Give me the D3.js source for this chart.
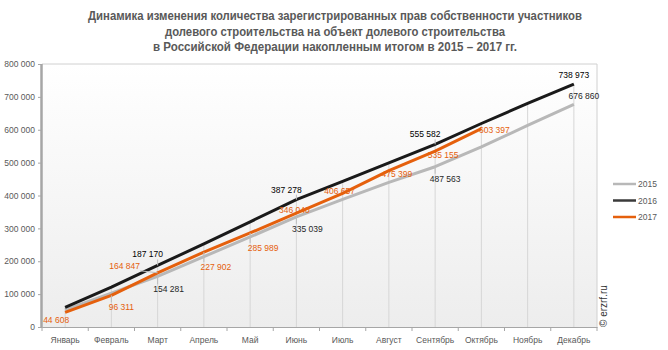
<!DOCTYPE html>
<html><head><meta charset="utf-8">
<script src="https://cdn.jsdelivr.net/npm/d3@7"></script>
<style>
body{margin:0;background:#fff;}
svg{display:block;}
</style></head>
<body>
<svg id="chart" width="668" height="350"></svg>
<script>
// ---- data ----
const months = ["Январь","Февраль","Март","Апрель","Май","Июнь","Июль","Август","Сентябрь","Октябрь","Ноябрь","Декабрь"];
const seriesNames = ["2015","2016","2017"];
const values2015 = [52000,103000,154281,214000,274000,335039,388000,440000,487563,548000,613000,676860];
const values2016 = [60000,121000,187170,253000,320000,387278,443000,499000,555582,619000,680000,738973];
const values2017 = [44608,96311,164847,227902,285989,346040,406657,475399,535155,603397];
const labeled2015 = [2,5,8,11];
const labeled2016 = [2,5,8,11];
const labeled2017 = [0,1,2,3,4,5,6,7,8,9];
const yTicks = [0,100000,200000,300000,400000,500000,600000,700000,800000];
const titleLines = [
  "Динамика изменения количества зарегистрированных прав собственности  участников",
  "долевого строительства на объект долевого строительства",
  "в Российской Федерации накопленным итогом в 2015 – 2017 гг."
];

// ---- layout / style ----
const colors = {"2015":"#b8b8b8","2016":"#1a1a1a","2017":"#e5600d"};
const labelColors = {"2015":"#262626","2016":"#000000","2017":"#e5600d"};
const labelOffsets = {
  "2015":[[11,13],[11,12],[10,12],[10,-8]],
  "2016":[[-10,-11],[-10,-10],[-10,-10],[0,-9]],
  "2017":[[-9,8],[10,12],[-33,-7],[12,15],[13,15],[-2,-3],[-3,-2],[8,3],[8,4],[13,1]]
};
const m = {left:42, right:597, top:64, bottom:327};
const fmt = v => d3.format(",")(v).replace(/,/g," ");

const svg = d3.select("#chart");
const defs = svg.append("defs");
const grad = defs.append("linearGradient").attr("id","bg").attr("x1",0).attr("y1",0).attr("x2",0).attr("y2",1);
grad.append("stop").attr("offset","0%").attr("stop-color","#ffffff");
grad.append("stop").attr("offset","100%").attr("stop-color","#ededed");

// title
const titleWidths = [494,340,364];
svg.append("g").selectAll("text").data(titleLines).join("text")
  .attr("x",335).attr("y",(d,i)=>20+i*15.5)
  .attr("text-anchor","middle")
  .attr("font-family","'Liberation Sans Narrow','Arial Narrow','Liberation Sans',sans-serif")
  .attr("font-weight","bold").attr("font-size",12).attr("fill","#595959")
  .attr("textLength",(d,i)=>titleWidths[i]).attr("lengthAdjust","spacingAndGlyphs")
  .text(d=>d);

const x = d3.scaleBand().domain(months).range([m.left,m.right]).padding(0);
const y = d3.scaleLinear().domain([0,800000]).range([m.bottom,m.top]);
const cx = i => x(months[i]) + x.bandwidth()/2;

// plot background
svg.append("rect").attr("x",m.left).attr("y",m.top).attr("width",m.right-m.left).attr("height",m.bottom-m.top)
  .attr("fill","url(#bg)");
svg.append("line").attr("x1",m.left).attr("x2",m.right).attr("y1",m.top).attr("y2",m.top).attr("stroke","#d0d0d0");
svg.append("line").attr("x1",m.right).attr("x2",m.right).attr("y1",m.top).attr("y2",m.bottom).attr("stroke","#d0d0d0");

// drop lines
const allSeries = {"2015":values2015,"2016":values2016,"2017":values2017};
svg.append("g").selectAll("line").data(months).join("line")
  .attr("x1",(d,i)=>cx(i)).attr("x2",(d,i)=>cx(i))
  .attr("y1",y(0))
  .attr("y2",(d,i)=>y(d3.max(seriesNames.map(s=>allSeries[s][i]).filter(v=>v!=null))))
  .attr("stroke","#d6d6d6").attr("stroke-width",1);

// y axis
const yAxis = svg.append("g").attr("transform",`translate(${m.left-1},0)`)
  .call(d3.axisLeft(y).tickValues(yTicks).tickFormat(fmt).tickSize(3).tickPadding(3));
yAxis.select(".domain").remove();
yAxis.selectAll("line").attr("stroke","#a6a6a6");
yAxis.selectAll("text").attr("font-family","'Liberation Sans',Arial,sans-serif").attr("font-size",8.5).attr("fill","#595959");
svg.append("line").attr("x1",m.left-0.5).attr("x2",m.left-0.5).attr("y1",m.top).attr("y2",m.bottom+1)
  .attr("stroke","#a6a6a6").attr("stroke-width",2.5);

// x axis
const xAxis = svg.append("g").attr("transform",`translate(0,${m.bottom})`)
  .call(d3.axisBottom(x).tickSize(0).tickPadding(10));
xAxis.select(".domain").attr("stroke","#a6a6a6");
xAxis.selectAll("text").attr("font-family","'Liberation Sans',Arial,sans-serif").attr("font-size",8.5).attr("fill","#595959");
svg.append("g").selectAll("line").data(d3.range(months.length+1)).join("line")
  .attr("x1",i=>m.left+i*x.step()).attr("x2",i=>m.left+i*x.step())
  .attr("y1",m.bottom).attr("y2",m.bottom+4).attr("stroke","#a6a6a6");

// lines
const line = d3.line().x((d,i)=>cx(i)).y(d=>y(d));
seriesNames.forEach(s=>{
  svg.append("path").datum(allSeries[s]).attr("d",line)
    .attr("fill","none").attr("stroke",colors[s]).attr("stroke-width",3)
    .attr("stroke-linejoin","round");
});

// labels with leader lines
const labeled = {"2015":labeled2015,"2016":labeled2016,"2017":labeled2017};
const lg = svg.append("g");
const leaderG = lg.append("g");
seriesNames.forEach(s=>{
  labeled[s].forEach((idx,k)=>{
    const px = cx(idx), py = y(allSeries[s][idx]);
    const [dx,dy] = labelOffsets[s][k];
    const t = lg.append("text").attr("x",px+dx).attr("y",py+dy+3)
      .attr("text-anchor","middle")
      .attr("font-family","'Liberation Sans',Arial,sans-serif").attr("font-size",8.5)
      .attr("fill",labelColors[s]).text(fmt(allSeries[s][idx]));
    const bb = t.node().getBBox();
    const nx = Math.max(bb.x, Math.min(px, bb.x+bb.width));
    const ny = Math.max(bb.y, Math.min(py, bb.y+bb.height));
    if (Math.hypot(nx-px, ny-py) > 4) {
      leaderG.append("line").attr("x1",nx).attr("y1",ny).attr("x2",px).attr("y2",py)
        .attr("stroke","#bdbdbd").attr("stroke-width",1);
    }
  });
});

// legend
const leg = svg.append("g");
seriesNames.forEach((s,i)=>{
  const ly = 184 + i*16.5;
  leg.append("line").attr("x1",613).attr("x2",636).attr("y1",ly).attr("y2",ly)
    .attr("stroke", s==="2016" ? "#3a3a3a" : colors[s]).attr("stroke-width",2.5);
  leg.append("text").attr("x",638).attr("y",ly+3).attr("font-family","'Liberation Sans',Arial,sans-serif")
    .attr("font-size",8.5).attr("fill","#595959").text(s);
});

// watermark
svg.append("text").attr("transform","translate(607,327) rotate(-90)")
  .attr("font-family","'Liberation Sans',Arial,sans-serif").attr("font-size",10).attr("fill","#333")
  .text("© erzrf.ru");
</script>
</body></html>
